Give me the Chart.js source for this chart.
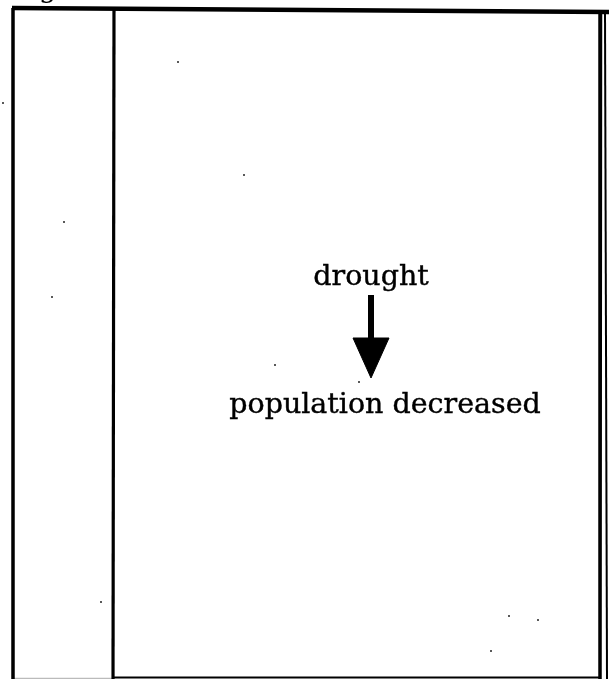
<!DOCTYPE html>
<html>
<head>
<meta charset="utf-8">
<script src="https://cdn.jsdelivr.net/npm/chart.js@4.4.1/dist/chart.umd.min.js"></script>
<style>
  html, body { margin: 0; padding: 0; background: #ffffff; }
  #wrap { width: 610px; height: 679px; position: relative; }
</style>
</head>
<body>
<div id="wrap"><canvas id="c" width="610" height="679"></canvas></div>
<script>
// ---- diagram content (diagram coordinate space: x 0..610, y 0..679 downward) ----
const nodeLabels = ["drought", "population decreased"];
const nodeX = [371, 385];
const nodeY = [285, 413];          // text baselines

const arrowFrom = [371, 295];
const arrowTo = [371, 378];

// frame segments: [x1, y1, x2, y2]
const frameSegments = [
  [12, 8, 609, 12],    // top
  [13, 8, 13, 679],    // left
  [114, 10, 113, 679], // column divider
  [114, 677.5, 600, 677.5], // bottom of right panel
  [600.5, 12, 600, 679],    // right inner
  [605, 12, 607, 679]       // right outer
];
const frameWidths = [4.5, 3.5, 3.2, 2.2, 3.5, 2];

// specks of scan dust
const specksX = [178, 244, 64, 52, 275, 359, 101, 509, 538, 491, 3];
const specksY = [62, 175, 222, 297, 365, 382, 602, 616, 620, 651, 103];

// ---- build datasets ----
const datasets = [];
frameSegments.forEach((s, i) => {
  datasets.push({
    data: [{x: s[0], y: s[1]}, {x: s[2], y: s[3]}],
    showLine: true, borderColor: '#000', borderWidth: frameWidths[i],
    pointRadius: 0, fill: false, borderCapStyle: 'butt'
  });
});
// bottom of left column (faint)
datasets.push({
  data: [{x: 14, y: 678.5}, {x: 112, y: 678.5}],
  showLine: true, borderColor: '#bbb', borderWidth: 1.5, pointRadius: 0
});
// arrow shaft
const headBase = arrowTo[1] - 40;
datasets.push({
  data: [{x: arrowFrom[0], y: arrowFrom[1]}, {x: arrowFrom[0], y: headBase + 2}],
  showLine: true, borderColor: '#000', borderWidth: 6, pointRadius: 0, borderCapStyle: 'butt'
});
// arrow head (filled triangle)
datasets.push({
  data: [
    {x: arrowTo[0] - 18, y: headBase},
    {x: arrowTo[0] + 18, y: headBase},
    {x: arrowTo[0], y: arrowTo[1]},
    {x: arrowTo[0] - 18, y: headBase}
  ],
  showLine: true, borderColor: '#000', borderWidth: 1, pointRadius: 0,
  backgroundColor: '#000', fill: 'shape', tension: 0
});
// specks
datasets.push({
  data: specksX.map((x, i) => ({x: x, y: specksY[i]})),
  showLine: false, pointRadius: 1, backgroundColor: '#222', borderWidth: 0
});

const textPlugin = {
  id: 'diagramText',
  afterDatasetsDraw(chart) {
    const ctx = chart.ctx, xs = chart.scales.x, ys = chart.scales.y;
    ctx.save();
    ctx.fillStyle = '#000';
    ctx.strokeStyle = '#000';
    ctx.lineWidth = 0.4;
    ctx.font = '28.5px "DejaVu Serif", serif';
    ctx.textAlign = 'center';
    ctx.textBaseline = 'alphabetic';
    nodeLabels.forEach((t, i) => {
      const px = xs.getPixelForValue(nodeX[i]), py = ys.getPixelForValue(nodeY[i]);
      ctx.fillText(t, px, py);
      ctx.strokeText(t, px, py);
    });
    // cut-off caption at the very top
    ctx.textAlign = 'right';
    ctx.fillText('Fig', xs.getPixelForValue(57), ys.getPixelForValue(-3));
    ctx.restore();
  }
};

new Chart(document.getElementById('c'), {
  type: 'scatter',
  data: { datasets },
  options: {
    responsive: false,
    animation: false,
    layout: { padding: 0, autoPadding: false },
    plugins: { legend: { display: false }, tooltip: { enabled: false } },
    scales: {
      x: { type: 'linear', min: 0, max: 610, display: false },
      y: { type: 'linear', min: 0, max: 679, reverse: true, display: false }
    }
  },
  plugins: [textPlugin]
});
</script>
</body>
</html>
